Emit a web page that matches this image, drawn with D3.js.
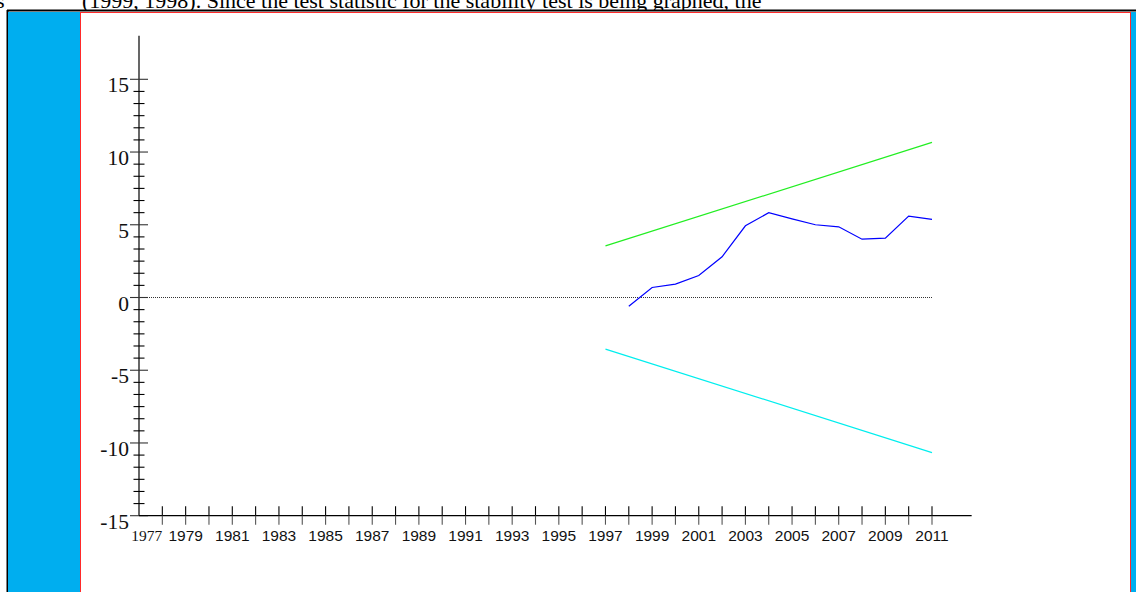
<!DOCTYPE html>
<html>
<head>
<meta charset="utf-8">
<script src="https://cdn.jsdelivr.net/npm/d3@7"></script>
<style>
  html, body { margin: 0; padding: 0; background: #fff; }
  svg { display: block; }
</style>
</head>
<body>
<svg id="chart" width="1136" height="592"></svg>
<script>
// CUSUM of recursive residuals with 5% significance bounds
const cusumYears = [1998, 1999, 2000, 2001, 2002, 2003, 2004, 2005, 2006, 2007, 2008, 2009, 2010, 2011];
const cusumValues = [-0.60, 0.69, 0.92, 1.51, 2.80, 4.93, 5.83, 5.41, 5.00, 4.86, 4.01, 4.08, 5.60, 5.37];
const boundYears = [1997, 2011];
const upperBound = [3.55, 10.66];
const lowerBound = [-3.55, -10.66];
const yTickValues = [-15, -10, -5, 0, 5, 10, 15];
const firstYear = 1977;
const lastYear = 2011;

const svg = d3.select("#chart");

// page text running above the figure frame
const serif = "'Liberation Serif', 'Times New Roman', serif";
svg.append("text")
  .attr("x", -4).attr("y", 8)
  .attr("font-family", serif).attr("font-size", 22).attr("fill", "#000")
  .text("s");
svg.append("text")
  .attr("x", 82).attr("y", 8)
  .attr("font-family", serif).attr("font-size", 22).attr("fill", "#000")
  .text("(1999, 1998). Since the test statistic for the stability test is being graphed, the");

// figure frame
svg.append("rect").attr("x", 7).attr("y", 10).attr("width", 1140).attr("height", 600)
  .attr("fill", "#fff");
svg.append("line").attr("x1", 7).attr("x2", 1136).attr("y1", 10.5).attr("y2", 10.5)
  .attr("stroke", "#000").attr("stroke-width", 2);
svg.append("line").attr("x1", 7.5).attr("x2", 7.5).attr("y1", 10).attr("y2", 592)
  .attr("stroke", "#000").attr("stroke-width", 2);
svg.append("rect").attr("x", 8).attr("y", 12).attr("width", 72).attr("height", 580)
  .attr("fill", "#00aeef");
svg.append("rect").attr("x", 1131).attr("y", 12).attr("width", 5).attr("height", 580)
  .attr("fill", "#00aeef");
svg.append("line").attr("x1", 80).attr("x2", 1131).attr("y1", 12.5).attr("y2", 12.5)
  .attr("stroke", "#ff2a2a").attr("stroke-width", 1);
svg.append("line").attr("x1", 80.5).attr("x2", 80.5).attr("y1", 12).attr("y2", 592)
  .attr("stroke", "#ff2a2a").attr("stroke-width", 1);
svg.append("line").attr("x1", 1130.5).attr("x2", 1130.5).attr("y1", 12).attr("y2", 592)
  .attr("stroke", "#ff2a2a").attr("stroke-width", 1);

// scales
const x = d3.scaleLinear().domain([firstYear, lastYear]).range([139, 932]);
const y = d3.scaleLinear().domain([-15, 15]).range([515.7, 79.3]);

const g = svg.append("g");

// y axis line
g.append("line")
  .attr("x1", x(firstYear)).attr("x2", x(firstYear))
  .attr("y1", y(-15)).attr("y2", y(18))
  .attr("stroke", "#000").attr("stroke-width", 1.2);

// y minor ticks (six per labelled interval)
const minor = d3.range(0, 37).map(i => -15 + i * 5 / 6)
  .filter(v => Math.abs(v / 5 - Math.round(v / 5)) > 1e-6);
g.selectAll(".ytick-minor").data(minor).enter().append("line")
  .attr("x1", x(firstYear) - 5.5).attr("x2", x(firstYear) + 5.5)
  .attr("y1", d => y(d)).attr("y2", d => y(d))
  .attr("stroke", "#000").attr("stroke-width", 1.1);

// y major ticks and labels
g.selectAll(".ytick-major").data(yTickValues).enter().append("line")
  .attr("x1", x(firstYear) - 9).attr("x2", x(firstYear) + 9)
  .attr("y1", d => y(d)).attr("y2", d => y(d))
  .attr("stroke", "#333").attr("stroke-width", 1.1);
g.selectAll(".ylabel").data(yTickValues).enter().append("text")
  .attr("x", 129).attr("y", d => y(d) + 13)
  .attr("text-anchor", "end")
  .attr("font-family", serif)
  .attr("font-size", 21.5)
  .attr("fill", "#111")
  .text(d => d);

// x axis line
const xAxisY = y(-15);
g.append("line")
  .attr("x1", x(firstYear)).attr("x2", x(2012.7))
  .attr("y1", xAxisY).attr("y2", xAxisY)
  .attr("stroke", "#000").attr("stroke-width", 1.2);

// x ticks for each year
const tickYears = d3.range(firstYear + 1, lastYear + 1);
g.selectAll(".xtick-up").data(tickYears).enter().append("line")
  .attr("x1", d => x(d)).attr("x2", d => x(d))
  .attr("y1", xAxisY - 9.5).attr("y2", xAxisY)
  .attr("stroke", "#000").attr("stroke-width", 1.1);
g.selectAll(".xtick-down").data(tickYears).enter().append("line")
  .attr("x1", d => x(d)).attr("x2", d => x(d))
  .attr("y1", xAxisY).attr("y2", xAxisY + 9)
  .attr("stroke", "#555").attr("stroke-width", 1.1);

// x labels on odd years
const labelYears = d3.range(firstYear + 2, lastYear + 1, 2);
g.selectAll(".xlabel").data(labelYears).enter().append("text")
  .attr("x", d => x(d)).attr("y", 540.5)
  .attr("text-anchor", "middle")
  .attr("font-family", "'Liberation Sans', Arial, sans-serif")
  .attr("font-size", 15.5)
  .attr("fill", "#111")
  .text(d => d);
g.append("text")
  .attr("x", x(firstYear) + 7.7).attr("y", 540.5)
  .attr("text-anchor", "middle")
  .attr("font-family", serif)
  .attr("font-size", 15.5)
  .attr("fill", "#111")
  .text(firstYear);

// zero reference line
g.append("line")
  .attr("x1", x(firstYear)).attr("x2", x(lastYear))
  .attr("y1", y(0)).attr("y2", y(0))
  .attr("stroke", "#333").attr("stroke-width", 1)
  .attr("stroke-dasharray", "1,1");

const line = d3.line();

// 5% bounds
g.append("path")
  .attr("d", line(boundYears.map((yr, i) => [x(yr), y(upperBound[i])])))
  .attr("fill", "none").attr("stroke", "#22ee22").attr("stroke-width", 1.2);
g.append("path")
  .attr("d", line(boundYears.map((yr, i) => [x(yr), y(lowerBound[i])])))
  .attr("fill", "none").attr("stroke", "#00eeee").attr("stroke-width", 1.2);

// CUSUM series
g.append("path")
  .attr("d", line(cusumYears.map((yr, i) => [x(yr), y(cusumValues[i])])))
  .attr("fill", "none").attr("stroke", "#0000ff").attr("stroke-width", 1.2);
</script>
</body>
</html>
